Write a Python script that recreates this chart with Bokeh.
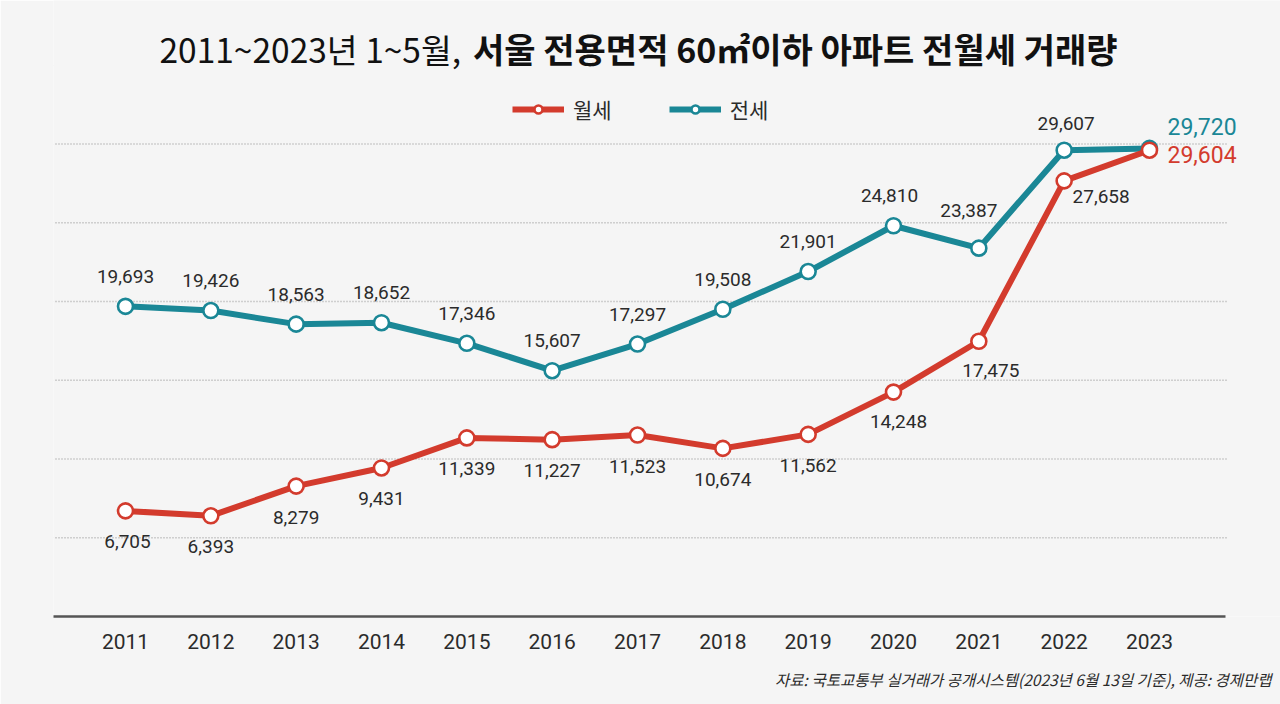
from bokeh.plotting import figure
from bokeh.models import (FixedTicker, Label, Range1d, Legend, LegendItem, ColumnDataSource,
                          Title, BoxAnnotation)
from bokeh.core.properties import value
from bokeh.embed import file_html
from bokeh.resources import INLINE

# ---------------- data ----------------
years = [2011, 2012, 2013, 2014, 2015, 2016, 2017, 2018, 2019, 2020, 2021, 2022, 2023]
wolse = [6705, 6393, 8279, 9431, 11339, 11227, 11523, 10674, 11562, 14248, 17475, 27658, 29604]
jeonse = [19693, 19426, 18563, 18652, 17346, 15607, 17297, 19508, 21901, 24810, 23387, 29607, 29720]
grid_values = [5000, 10000, 15000, 20000, 25000, 30000]
series_names = ["월세", "전세"]
title_regular = "2011~2023년 1~5월,"
title_bold = "서울 전용면적 60㎡이하 아파트 전월세 거래량"
source_note = "자료: 국토교통부 실거래가 공개시스템(2023년 6월 13일 기준), 제공: 경제만랩"

# ---------------- style ----------------
RED = "#d33b2d"
TEAL = "#1a8796"
BG = "#f5f5f5"
TXT = "#2b2b2b"
KR = "Noto Sans CJK KR"
NUM = "Roboto"

W, H = 1280, 704
# pixel geometry of the canvas
PX0, PXSTEP = 125.0, 85.333
FRAME_L, FRAME_R, FRAME_T, FRAME_B = 53, 1280, 0, 616
AXIS_END = 1225
YSCALE = 0.01575


def X(px):
    return 2011 + (px - PX0) / PXSTEP


def Y(py):
    return (FRAME_B - py) / YSCALE


p = figure(width=W, height=H, output_backend="svg", toolbar_location=None,
           x_range=Range1d(X(FRAME_L), X(FRAME_R)), y_range=Range1d(0, Y(FRAME_T)),
           y_axis_location=None,
           min_border_left=FRAME_L, min_border_right=W - FRAME_R,
           min_border_top=FRAME_T, min_border_bottom=H - FRAME_B)
p.background_fill_color = BG
p.border_fill_color = BG
p.outline_line_color = None
p.xgrid.visible = False
p.add_layout(BoxAnnotation(fill_color=BG, fill_alpha=1.0, line_color=None, level="underlay"))

# dotted horizontal guide lines at the grid values
p.segment(x0=[X(55)] * len(grid_values), x1=[X(1227)] * len(grid_values),
          y0=grid_values, y1=grid_values,
          line_color="#a9a9a9", line_dash="1 2", line_width=1.3)

ax = p.xaxis[0]
ax.ticker = FixedTicker(ticks=years)
ax.bounds = (X(FRAME_L), X(AXIS_END))
ax.major_label_text_font = NUM
ax.major_label_text_font_size = "21px"
ax.major_label_text_color = TXT
ax.major_tick_line_color = None
ax.minor_tick_line_color = None
ax.major_label_standoff = 11
ax.axis_line_color = "#555555"
ax.axis_line_width = 2.5

# ---------------- series ----------------
jl = p.line(years, jeonse, line_color=TEAL, line_width=6)
js = p.scatter(years, jeonse, size=15, fill_color="white", line_color=TEAL, line_width=2.6)
wl = p.line(years, wolse, line_color=RED, line_width=6)
ws = p.scatter(years, wolse, size=15, fill_color="white", line_color=RED, line_width=2.6)

# ---------------- data labels ----------------
fmt = lambda v: f"{v:,}"
n = len(years)
j_dx = [0] * n
j_dy = [-30] * n
j_dx[9], j_dy[9] = -4, -30
j_dx[10], j_dy[10] = -10, -38
j_dx[11], j_dy[11] = 2, -27
w_dx = [0] * n
w_dy = [31] * n
w_dx[0] = 2
w_dx[9], w_dy[9] = 5, 29
w_dx[10], w_dy[10] = 12, 29
w_dx[11], w_dy[11] = 37, 16

src_j = ColumnDataSource(dict(x=years[:-1], y=jeonse[:-1], t=[fmt(v) for v in jeonse[:-1]],
                              dx=j_dx[:-1], dy=j_dy[:-1]))
src_w = ColumnDataSource(dict(x=years[:-1], y=wolse[:-1], t=[fmt(v) for v in wolse[:-1]],
                              dx=w_dx[:-1], dy=w_dy[:-1]))
for s in (src_j, src_w):
    p.text(x="x", y="y", text="t", x_offset="dx", y_offset="dy", source=s,
           text_font=value(NUM), text_font_size="19px", text_color=TXT,
           text_align="center", text_baseline="middle")

# last values, coloured
p.text(x=[years[-1]], y=[jeonse[-1]], text=[fmt(jeonse[-1])], x_offset=18, y_offset=-22,
       text_font=value(NUM), text_font_size="23px", text_color=TEAL,
       text_align="left", text_baseline="middle")
p.text(x=[years[-1]], y=[wolse[-1]], text=[fmt(wolse[-1])], x_offset=18, y_offset=4,
       text_font=value(NUM), text_font_size="23px", text_color=RED,
       text_align="left", text_baseline="middle")

# ---------------- legend ----------------
legend = Legend(items=[LegendItem(label=series_names[0], renderers=[wl, ws]),
                       LegendItem(label=series_names[1], renderers=[jl, js])],
                orientation="horizontal", location=(459, 492),
                glyph_width=52, glyph_height=20, label_height=20, label_standoff=9,
                spacing=57, padding=0, margin=0,
                label_text_font=KR, label_text_font_size="21px", label_text_color=TXT,
                background_fill_alpha=0, border_line_color=None)
p.add_layout(legend)

# ---------------- title & source ----------------
p.add_layout(Label(x=X(159), y=Y(48), text=title_regular, text_font=KR, text_font_size="33.5px",
                   text_color="#111111", text_align="left", text_baseline="middle"))
p.add_layout(Label(x=X(1117), y=Y(48), text=title_bold, text_font=KR, text_font_size="34px",
                   text_font_style="bold", text_color="#111111", text_align="right",
                   text_baseline="middle"))
p.add_layout(Title(text=source_note, align="right", text_font=KR, text_font_size="15.5px",
                   text_font_style="italic", text_color=TXT, standoff=28, offset=9), "below")

open("out.html", "w").write(file_html(p, INLINE))
